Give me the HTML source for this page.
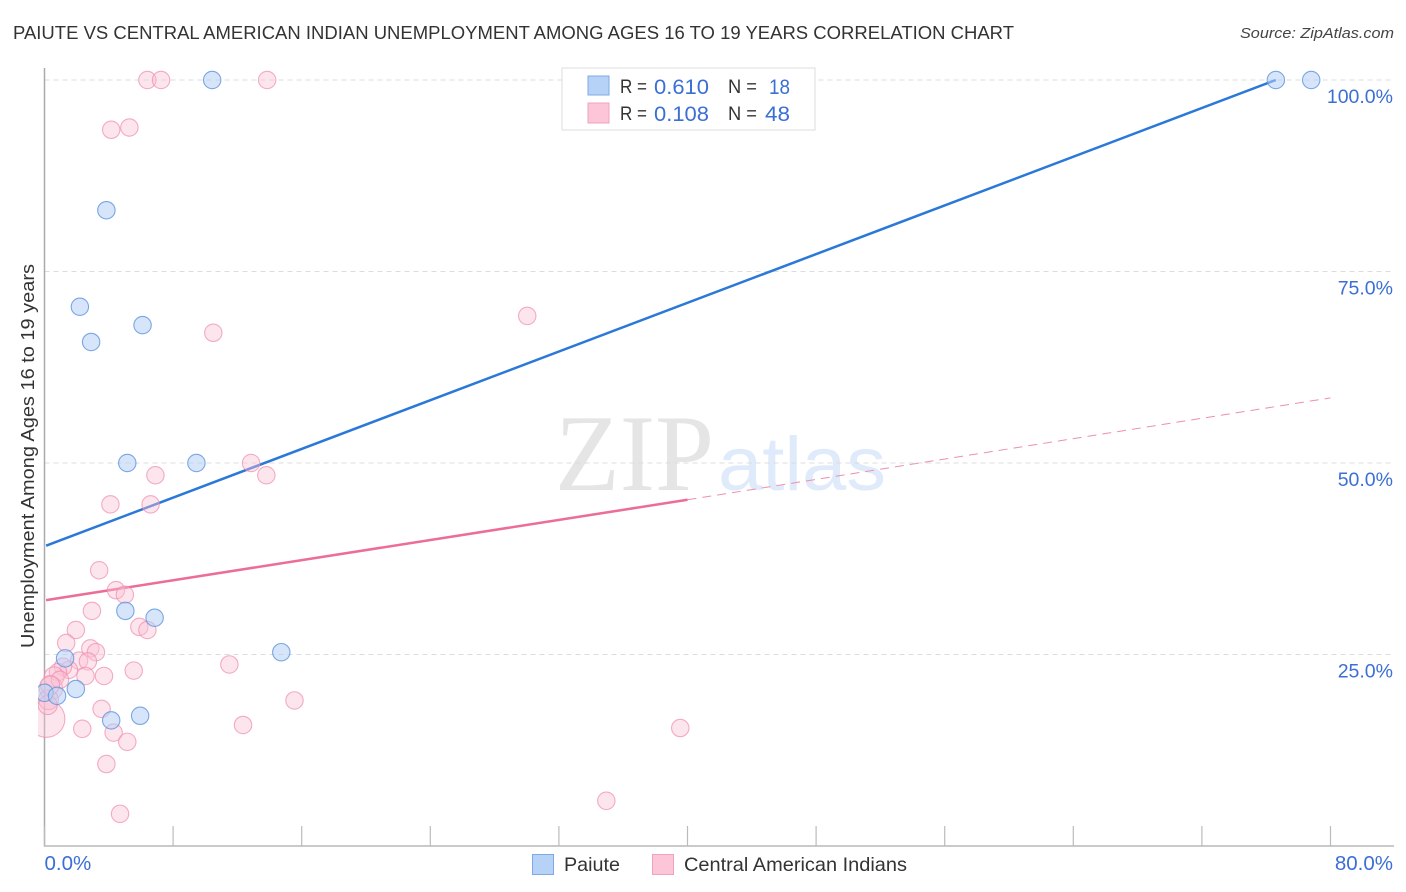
<!DOCTYPE html>
<html lang="en">
<head>
<meta charset="utf-8">
<title>Paiute vs Central American Indian Unemployment Correlation Chart</title>
<style>
html,body{margin:0;padding:0;background:#fff;}
svg{display:block;font-family:"Liberation Sans",sans-serif;}
</style>
</head>
<body>
<svg id="chart" width="1406" height="892" viewBox="0 0 1406 892" xmlns="http://www.w3.org/2000/svg">
  <text x="13" y="39" font-size="18.5" fill="#333" textLength="1001" lengthAdjust="spacingAndGlyphs">PAIUTE VS CENTRAL AMERICAN INDIAN UNEMPLOYMENT AMONG AGES 16 TO 19 YEARS CORRELATION CHART</text>
  <text x="1240" y="38" font-size="15" font-style="italic" fill="#444" textLength="154" lengthAdjust="spacingAndGlyphs">Source: ZipAtlas.com</text>
  <g id="watermark">
    <text x="555" y="490" font-family="'Liberation Serif',serif" font-size="109" fill="#e5e5e5" textLength="159" lengthAdjust="spacingAndGlyphs">ZIP</text>
    <text x="718" y="490" font-size="76" fill="#dfeafa" textLength="168" lengthAdjust="spacingAndGlyphs">atlas</text>
  </g>
  <g id="grid"></g>
  <g id="axes"></g>
  <g id="trends"></g>
  <g id="points"></g>
  <text transform="translate(34,456) rotate(-90)" font-size="18.5" fill="#333" text-anchor="middle" textLength="384" lengthAdjust="spacingAndGlyphs">Unemployment Among Ages 16 to 19 years</text>
  <g id="top-legend">
    <rect x="562" y="68" width="253" height="62" fill="#fff" stroke="#ddd" stroke-width="1"/>
    <rect x="588" y="76" width="21" height="19" fill="#b7d2f7" stroke="#7fa9e6" stroke-width="1"/>
    <rect x="588" y="103" width="21" height="20" fill="#fcc5d8" stroke="#f0a3bd" stroke-width="1"/>
    <g font-size="19" fill="#333">
      <text x="620" y="93" textLength="27" lengthAdjust="spacingAndGlyphs">R =</text>
      <text x="728" y="93" textLength="29" lengthAdjust="spacingAndGlyphs">N =</text>
      <text x="620" y="120" textLength="27" lengthAdjust="spacingAndGlyphs">R =</text>
      <text x="728" y="120" textLength="29" lengthAdjust="spacingAndGlyphs">N =</text>
    </g>
    <g font-size="21" fill="#3b6fd4">
      <text x="654" y="94" textLength="55" lengthAdjust="spacingAndGlyphs">0.610</text>
      <text x="769" y="94" textLength="21" lengthAdjust="spacingAndGlyphs">18</text>
      <text x="654" y="121" textLength="55" lengthAdjust="spacingAndGlyphs">0.108</text>
      <text x="765" y="121" textLength="25" lengthAdjust="spacingAndGlyphs">48</text>
    </g>
  </g>
  <g id="bottom-legend">
    <rect x="532.5" y="854.5" width="21" height="20" fill="#b7d2f7" stroke="#7fa9e6" stroke-width="1"/>
    <text x="564" y="871" font-size="19.5" fill="#333" textLength="56" lengthAdjust="spacingAndGlyphs">Paiute</text>
    <rect x="652.5" y="854.5" width="21" height="20" fill="#fcc5d8" stroke="#f0a3bd" stroke-width="1"/>
    <text x="684" y="871" font-size="19.5" fill="#333" textLength="223" lengthAdjust="spacingAndGlyphs">Central American Indians</text>
  </g>
</svg>
<script>
// Chart data (percent values)
var yTickValues = [25, 50, 75, 100];
var yTickLabels = ['25.0%', '50.0%', '75.0%', '100.0%'];
var xTickValues = [0, 8, 16, 24, 32, 40, 48, 56, 64, 72, 80];
var xEndValues = [0, 80];
var xEndLabels = ['0.0%', '80.0%'];

var paiuteX = [10.43, 76.6, 78.8, 3.85, 2.2, 6.1, 2.9, 5.15, 9.45, 5.03, 6.85, 14.73, 1.28, 1.95, 0.0, 0.78, 4.15, 5.95];
var paiuteY = [100, 100, 100, 83.0, 70.4, 68.0, 65.8, 50.0, 50.0, 30.7, 29.8, 25.3, 24.5, 20.5, 20.0, 19.6, 16.4, 17.0];

var centralX = [6.4, 7.25, 13.85, 4.15, 5.28, 10.5, 30.03, 12.85, 6.9, 13.8, 4.1, 6.6, 3.4, 4.45, 5.0, 2.95, 5.9, 6.4, 1.95, 1.35, 2.85, 3.2, 2.15, 2.7, 11.5, 5.55, 3.7, 2.55, 1.52, 1.15, 0.84, 0.6, 0.4, 15.55, 3.55, 12.35, 2.35, 4.3, 5.15, 3.85, 4.7, 39.55, 34.95, 0.12, 0.25, 0.2, 0.96, 0.35];
var centralY = [100, 100, 100, 93.5, 93.8, 67.0, 69.2, 50.0, 48.4, 48.4, 44.6, 44.6, 36.0, 33.4, 32.8, 30.7, 28.6, 28.2, 28.2, 26.5, 25.8, 25.3, 24.2, 24.1, 23.7, 22.9, 22.2, 22.2, 23.0, 23.4, 22.7, 22.1, 20.6, 19.0, 17.9, 15.8, 15.3, 14.8, 13.6, 10.7, 4.2, 15.4, 5.9, 16.6, 19.1, 18.4, 21.7, 21.0];
var centralWeight = [1, 1, 1, 1, 1, 1, 1, 1, 1, 1, 1, 1, 1, 1, 1, 1, 1, 1, 1, 1, 1, 1, 1, 1, 1, 1, 1, 1, 1, 1, 1, 1.3, 1.8, 1, 1, 1, 1, 1, 1, 1, 1, 1, 1, 4.5, 1.3, 1.2, 1, 1.2];

var paiuteTrendX = [0.1, 76.6];
var paiuteTrendY = [39.2, 100];
var centralSolidX = [0.1, 40];
var centralSolidY = [32.1, 45.2];
var centralDashX = [40, 80];
var centralDashY = [45.2, 58.5];

var NS = 'http://www.w3.org/2000/svg';
function xPos(v) { return 44.5 + v * (1330.5 - 44.5) / 80; }
function yPos(v) { return 846 - v * (846 - 80) / 100; }
function rPos(w) { return 8.7 * Math.sqrt(w); }
function make(tag, attrs, parent) {
  var el = document.createElementNS(NS, tag);
  for (var k in attrs) el.setAttribute(k, attrs[k]);
  parent.appendChild(el);
  return el;
}

var gridG = document.getElementById('grid');
var axesG = document.getElementById('axes');
var trendsG = document.getElementById('trends');
var pointsG = document.getElementById('points');

yTickValues.forEach(function (v, i) {
  var line = make('line', {x1: 44.5, x2: 1394, y1: yPos(v), y2: yPos(v), stroke: '#dcdcdc', 'stroke-width': 1, 'stroke-dasharray': '5 4'}, gridG);
  
  
  var label = make('text', {x: 1393, y: yPos(v) + 23, 'font-size': 19.5, fill: '#3b6fd4', 'text-anchor': 'end'}, axesG);
  label.textContent = yTickLabels[i];
  
  
});

var yAxis = make('line', {x1: 44.5, x2: 44.5, y1: 68, y2: 846.5, stroke: '#aaa', 'stroke-width': 1.5}, axesG);


var xAxis = make('line', {x1: 44, x2: 1394, y1: 846, y2: 846, stroke: '#aaa', 'stroke-width': 1.2}, axesG);



xTickValues.forEach(function (v) {
  var tick = make('line', {x1: xPos(v), x2: xPos(v), y1: 826, y2: 846, stroke: '#bbb', 'stroke-width': 1.2}, axesG);
  
  
});

xEndValues.forEach(function (v, i) {
  var label = make('text', {x: i === 0 ? xPos(v) : 1393, y: 870, 'font-size': 20.5, fill: '#3b6fd4', 'text-anchor': i === 0 ? 'start' : 'end'}, axesG);
  label.textContent = xEndLabels[i];
  
  
});

var paiuteTrend = make('line', {x1: xPos(paiuteTrendX[0]), y1: yPos(paiuteTrendY[0]), x2: xPos(paiuteTrendX[1]), y2: yPos(paiuteTrendY[1]), stroke: '#2a78d8', 'stroke-width': 2.5}, trendsG);


var centralSolid = make('line', {x1: xPos(centralSolidX[0]), y1: yPos(centralSolidY[0]), x2: xPos(centralSolidX[1]), y2: yPos(centralSolidY[1]), stroke: '#ec6c9a', 'stroke-width': 2.5}, trendsG);


var centralDash = make('line', {x1: xPos(centralDashX[0]), y1: yPos(centralDashY[0]), x2: xPos(centralDashX[1]), y2: yPos(centralDashY[1]), stroke: '#ec8fb0', 'stroke-width': 1, 'stroke-dasharray': '9 6'}, trendsG);



// clip so marks at x = 0 do not spill left of the y axis
var defs = make('defs', {}, document.getElementById('chart'));
var clip = make('clipPath', {id: 'plot-clip'}, defs);
make('rect', {x: 38, y: 60, width: 1360, height: 786}, clip);
pointsG.setAttribute('clip-path', 'url(#plot-clip)');

centralX.forEach(function (v, i) {
  var c = make('circle', {cx: xPos(v), cy: yPos(centralY[i]), r: rPos(centralWeight[i]), fill: '#fbc0d4', 'fill-opacity': 0.42, stroke: '#ee8cad', 'stroke-opacity': 0.7, 'stroke-width': 1.1}, pointsG);
  
  
});
paiuteX.forEach(function (v, i) {
  var c = make('circle', {cx: xPos(v), cy: yPos(paiuteY[i]), r: rPos(1), fill: '#b5d0f6', 'fill-opacity': 0.55, stroke: '#5c93dd', 'stroke-opacity': 0.8, 'stroke-width': 1.1}, pointsG);
  
  
});
</script>
</body>
</html>
